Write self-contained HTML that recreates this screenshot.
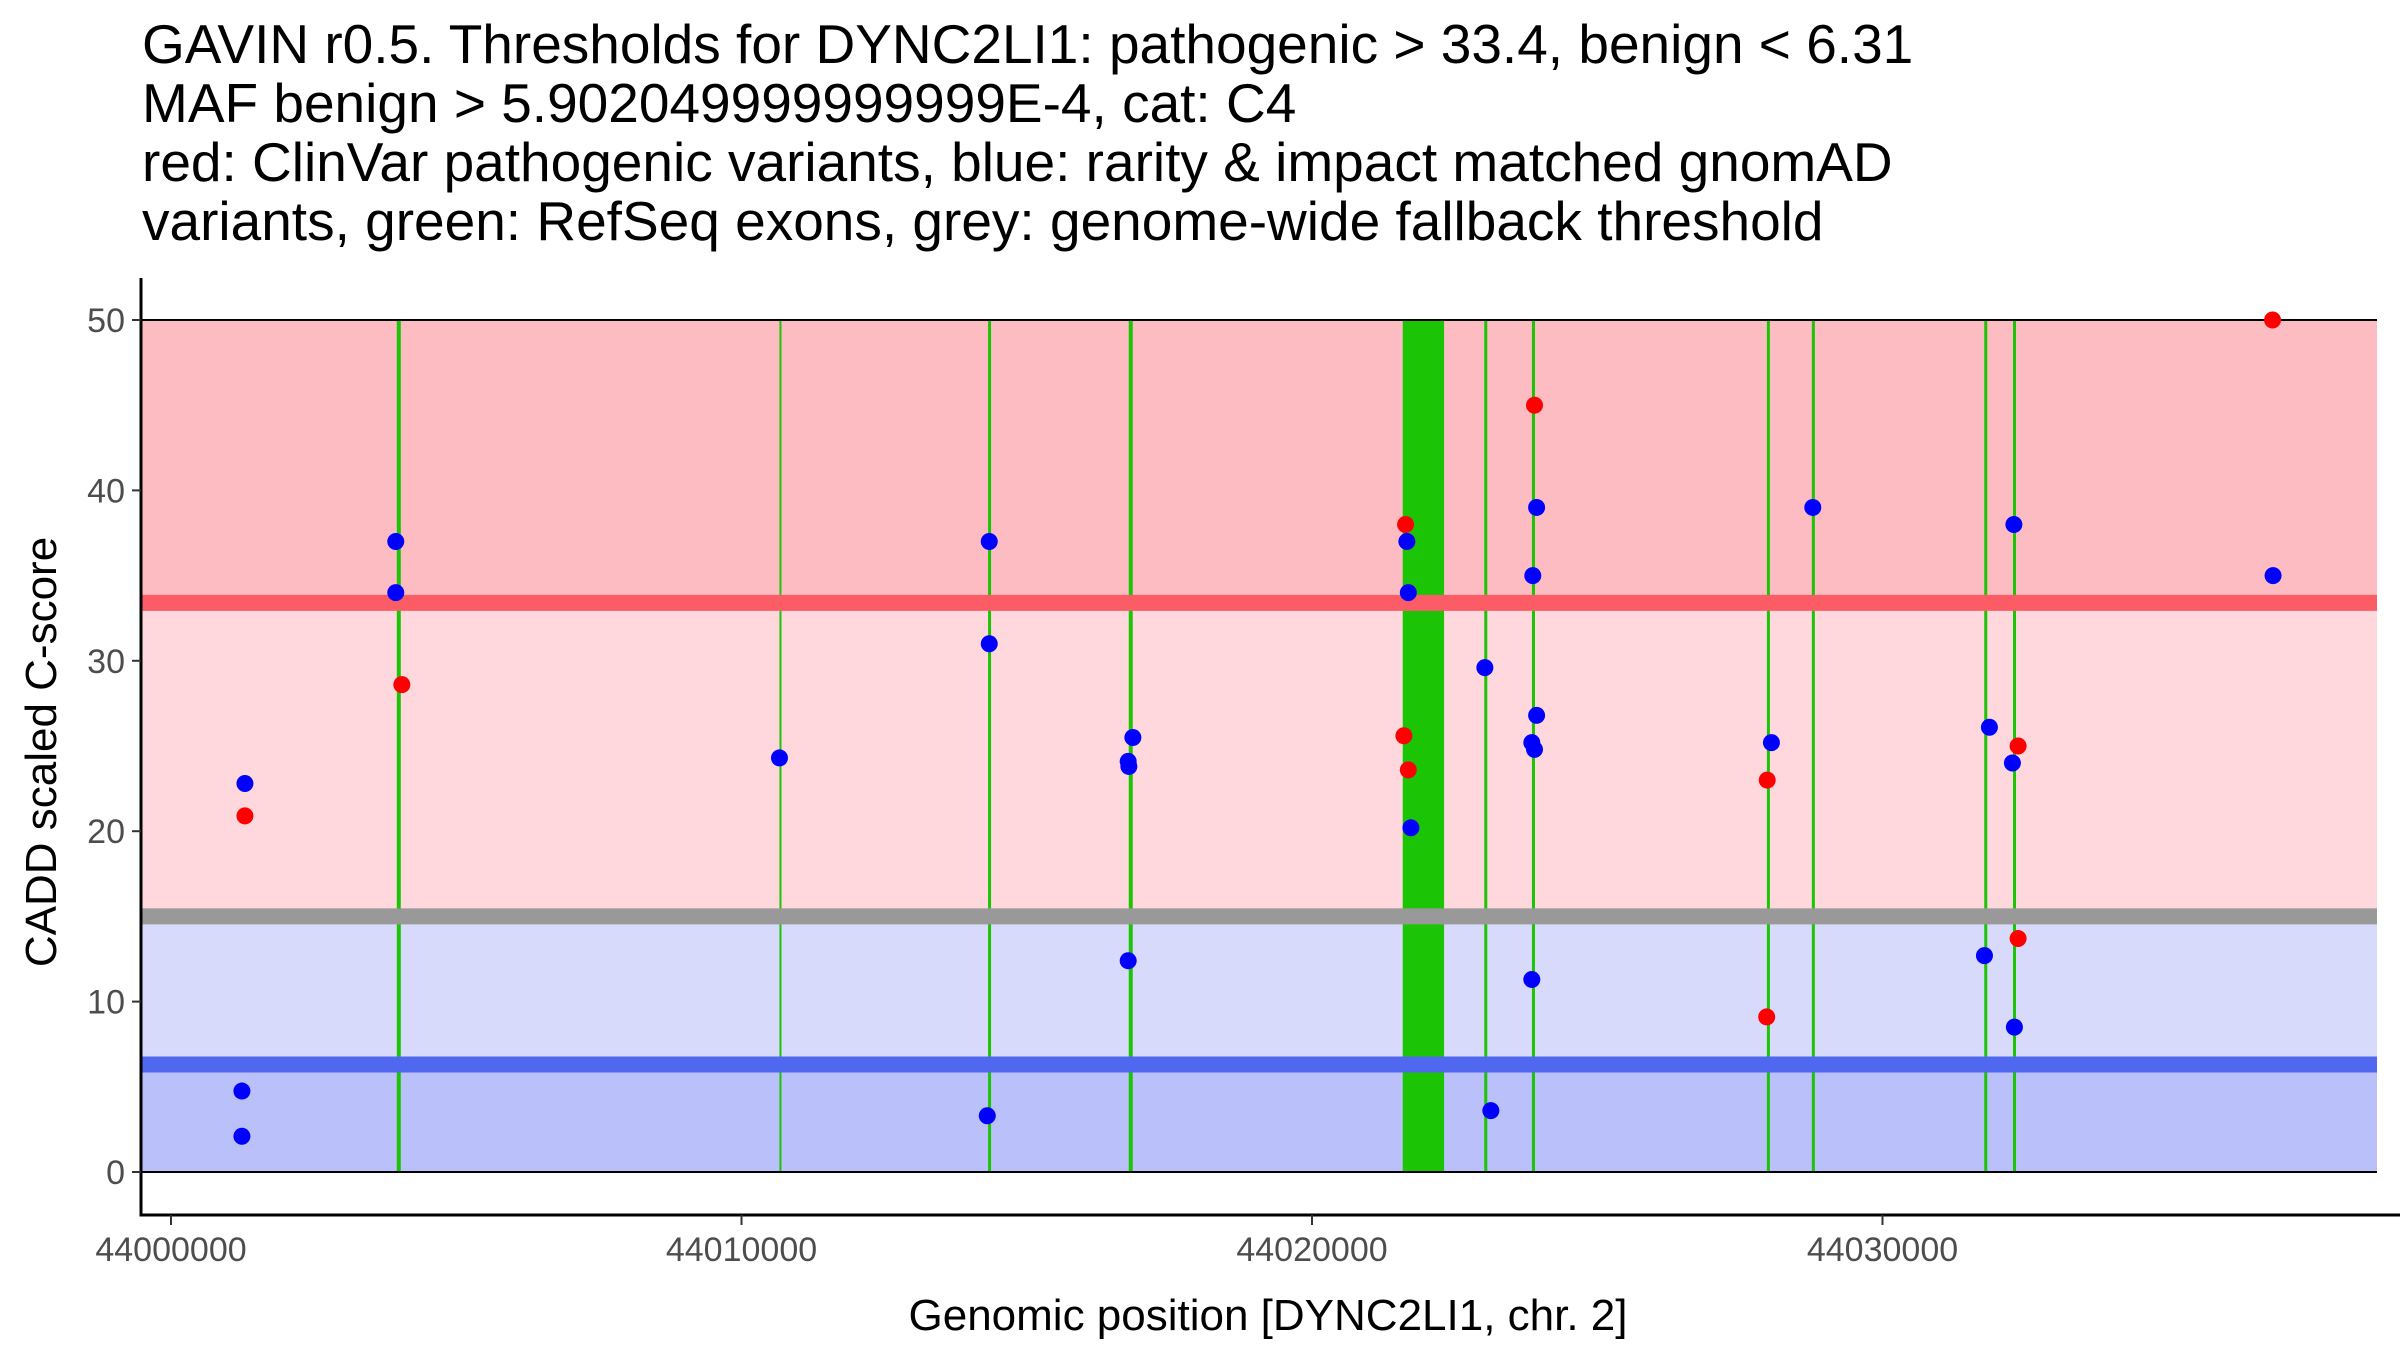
<!DOCTYPE html>
<html><head><meta charset="utf-8"><style>
html,body{margin:0;padding:0;background:#fff;}
svg text{font-family:"Liberation Sans",Arial,sans-serif;}
</style></head><body>
<svg id="chart" width="2400" height="1350" viewBox="0 0 2400 1350" xmlns="http://www.w3.org/2000/svg">
<g font-size="55" fill="#000">
<text x="142" y="63">GAVIN r0.5. Thresholds for DYNC2LI1: pathogenic &gt; 33.4, benign &lt; 6.31</text>
<text x="142" y="122">MAF benign &gt; 5.902049999999999E-4, cat: C4</text>
<text x="142" y="181">red: ClinVar pathogenic variants, blue: rarity &amp; impact matched gnomAD</text>
<text x="142" y="240">variants, green: RefSeq exons, grey: genome-wide fallback threshold</text>
</g>
<g id="bands"></g><g id="exons"></g><g id="refs"></g><g id="points"></g><g id="axes"></g>
<text x="0" y="0" font-size="44" text-anchor="middle" transform="translate(56,752) rotate(-90)">CADD scaled C-score</text>
<text x="1268" y="1330" font-size="44" text-anchor="middle">Genomic position [DYNC2LI1, chr. 2]</text>
</svg>
<script>
const xTicks=[44000000,44010000,44020000,44030000];
const yTicks=[0,10,20,30,40,50];
const pathThr=33.4, benignThr=6.31, fallbackThr=15;
const exonStarts=[44003993,44010683,44014348,44016823,44021590,44023046,44023882,44028000,44028788,44031810,44032314];
const exonEnds=[44003993,44010683,44014348,44016823,44022315,44023046,44023882,44028000,44028788,44031810,44032314];
const exonWidths=[4,2,3,4,0,3,3,3,3,3,3];
const redPos=[44001296,44004046,44021640,44021611,44021688,44023900,44027979,44027970,44032377,44032377,44036837];
const redScore=[20.9,28.6,38.0,25.6,23.6,45.0,23.0,9.1,25.0,13.7,50.0];
const bluePos=[44001243,44001243,44001296,44003940,44003940,44010666,44014343,44014343,44014308,44016860,44016778,44016790,44016778,44021663,44021688,44021734,44023030,44023135,44023937,44023870,44023937,44023853,44023900,44023853,44028053,44028778,44031874,44031787,44032303,44032277,44032312,44036846];
const blueScore=[4.75,2.1,22.8,37.0,34.0,24.3,37.0,31.0,3.3,25.5,24.1,23.8,12.4,37.0,34.0,20.2,29.6,3.6,39.0,35.0,26.8,25.2,24.8,11.3,25.2,39.0,26.1,12.7,38.0,24.0,8.5,35.0];

const L=141,R=2377,T=278,B=1215;
const x=v=>171+(v-44000000)*0.05705;
const y=v=>1172-v*17.04;
const NS='http://www.w3.org/2000/svg';
function mk(tag,attrs,parent){const e=document.createElementNS(NS,tag);for(const k in attrs)e.setAttribute(k,attrs[k]);document.getElementById(parent).appendChild(e);return e;}
let e;
e=mk('rect',{x:L,y:y(50),width:R-L,height:y(pathThr)-y(50),fill:'#FDBCC1'},'bands');


e=mk('rect',{x:L,y:y(pathThr),width:R-L,height:y(fallbackThr)-y(pathThr),fill:'#FED8DC'},'bands');


e=mk('rect',{x:L,y:y(fallbackThr),width:R-L,height:y(benignThr)-y(fallbackThr),fill:'#D8DAFB'},'bands');


e=mk('rect',{x:L,y:y(benignThr),width:R-L,height:y(0)-y(benignThr),fill:'#BAC0F9'},'bands');


exonStarts.forEach((s,i)=>{
  let r;
  if(exonWidths[i]===0){r=mk('rect',{x:x(s),y:y(50),width:x(exonEnds[i])-x(s),height:y(0)-y(50),fill:'#1BC404'},'exons');}
  else{r=mk('line',{x1:x(s),x2:x(s),y1:y(50),y2:y(0),stroke:'#1BC404','stroke-width':exonWidths[i]},'exons');}
  
  
});
[[pathThr,'#FC5C66','pathogenic-threshold-line'],[fallbackThr,'#999999','fallback-threshold-line'],[benignThr,'#5067F0','benign-threshold-line']].forEach(t=>{
  const l=mk('line',{x1:L,x2:R,y1:y(t[0]),y2:y(t[0]),stroke:t[1],'stroke-width':16},'refs');
  
  
});
[0,50].forEach(v=>{
  const l=mk('line',{x1:L,x2:R,y1:y(v),y2:y(v),stroke:'#000','stroke-width':2},'refs');
  
  
});
bluePos.forEach((p,i)=>{
  const c=mk('circle',{cx:x(p),cy:y(blueScore[i]),r:8.5,fill:'#0000FF'},'points');
  
  
});
redPos.forEach((p,i)=>{
  const c=mk('circle',{cx:x(p),cy:y(redScore[i]),r:8.5,fill:'#FF0000'},'points');
  
  
});
let a=mk('line',{x1:L,x2:L,y1:T,y2:B+1.5,stroke:'#000','stroke-width':3},'axes');


a=mk('line',{x1:L-1.5,x2:2400,y1:B,y2:B,stroke:'#000','stroke-width':3},'axes');


yTicks.forEach(v=>{
  const tk=mk('line',{x1:L-9,x2:L,y1:y(v),y2:y(v),stroke:'#333','stroke-width':2},'axes');
  
  
  const t=mk('text',{x:L-16,y:y(v)+12,'font-size':34,'text-anchor':'end',fill:'#4D4D4D'},'axes');
  t.textContent=v;
  
  
});
xTicks.forEach(v=>{
  const tk=mk('line',{x1:x(v),x2:x(v),y1:B,y2:B+10,stroke:'#333','stroke-width':2},'axes');
  
  
  const t=mk('text',{x:x(v),y:B+46,'font-size':34,'text-anchor':'middle',fill:'#4D4D4D'},'axes');
  t.textContent=v;
  
  
});
</script>
</body></html>
